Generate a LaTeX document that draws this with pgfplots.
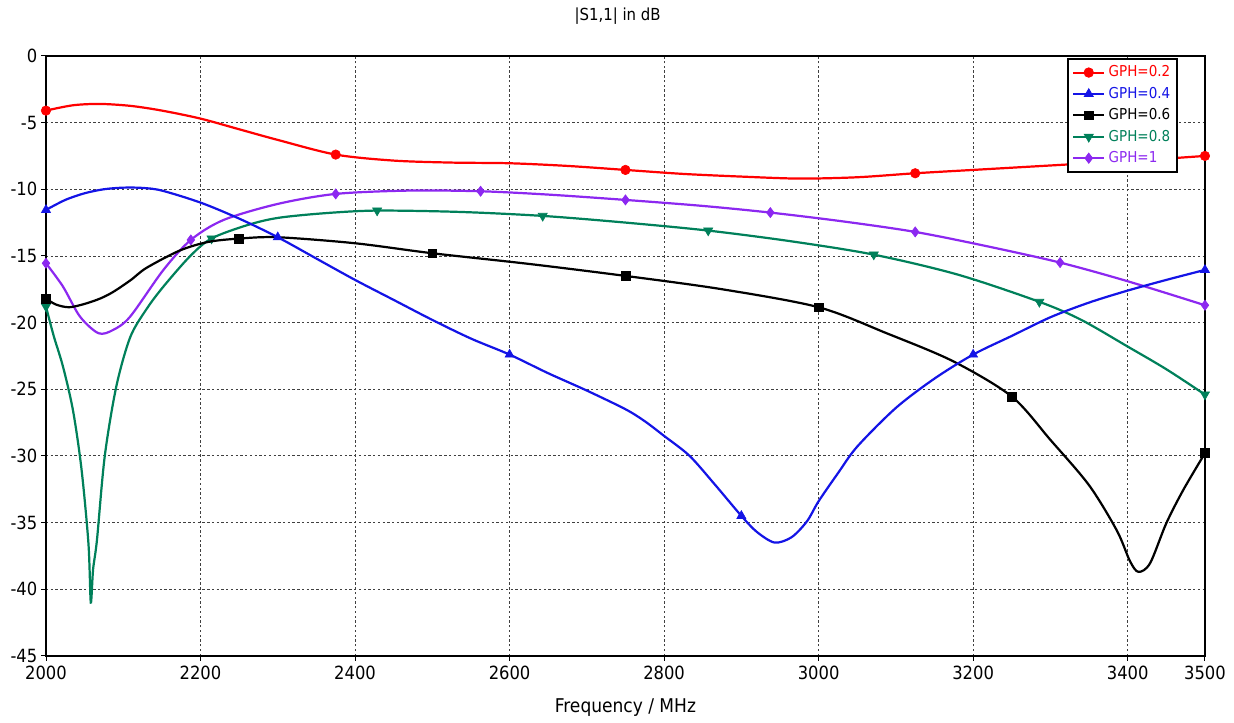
\documentclass[border=0pt]{standalone}
\usepackage{pgfplots}
\pgfplotsset{compat=1.18}
\usepackage{fontspec}
\setmainfont{DejaVu Sans Condensed}
\definecolor{cgreen}{RGB}{0,128,90}
\definecolor{cpurple}{RGB}{140,40,240}
\definecolor{cblue}{RGB}{20,20,230}
\definecolor{cred}{RGB}{255,0,0}
\begin{document}
\begin{tikzpicture}
\path[use as bounding box] (-29.1pt,-42.4pt) rectangle (751.9pt,415.1pt);
\begin{axis}[
 at={(0,0)}, anchor=south west,
 scale only axis, width=733.5pt, height=379.7pt,
 xmin=2000, xmax=3500, ymin=-45, ymax=0,
 xtick={2000,2200,...,3400,3500}, ytick={-45,-40,...,0},
 grid=major,
 major grid style={black!75, dash pattern=on 1.5pt off 1.5pt, line width=0.5pt},
 axis line style={black, line width=0.8pt},
 tick align=outside, tick pos=left, major tick length=3pt,
 tick style={black, line width=0.6pt},
 /pgf/number format/assume math mode=true,
 /pgf/number format/1000 sep={},
 ticklabel style={font=\fontsize{11.5}{13}\selectfont},
 yticklabel style={xshift=1pt},
 title={|S1,1| in dB},
 title style={font=\fontsize{10.5}{12}\selectfont, at={(0.5,1)}, anchor=center, yshift=19.3pt, xshift=-5pt},
 xlabel={Frequency / MHz},
 xlabel style={font=\fontsize{12}{14}\selectfont, at={(0.5,0)}, anchor=center, yshift=-33pt},
 clip mode=individual,
 legend style={at={(0.977,0.997)}, anchor=north east, draw=black, line width=1.2pt, fill=white,
   font=\fontsize{9.5}{11}\selectfont, row sep=1pt, inner sep=2.5pt},
 legend cell align=left,
 legend image code/.code={\draw[#1, line width=1.3pt] (0cm,0cm) -- (0.7cm,0cm);
   \draw[#1, line width=0.5pt] plot coordinates {(0.35cm,0cm)};},
]
% ---------- GPH=0.8 (green)
\addplot[cgreen, line width=1.4pt, smooth, forget plot] table {
2000 -18.8
2010 -21.0
2022 -23.3
2035 -26.6
2046 -31.0
2055 -36.6
2058 -41.0
2061 -38.5
2066 -36.3
2076 -30.05
2091 -24.8
2109 -21.1
2130 -19.0
2152 -17.3
2186 -15.05
2214 -13.7
2260 -12.7
2300 -12.15
2360 -11.8
2428 -11.6
2535 -11.7
2643 -12.0
2750 -12.5
2857 -13.1
2964 -13.9
3071 -14.9
3180 -16.4
3286 -18.45
3340 -19.8
3400 -21.8
3450 -23.5
3500 -25.4
};
\addplot[cgreen, only marks, mark=triangle*, mark options={rotate=180}, mark size=3.3pt, forget plot] table {
2000 -18.8
2214.3 -13.7
2428.6 -11.6
2642.9 -12.0
2857.1 -13.1
3071.4 -14.9
3285.7 -18.45
3500 -25.4
};
% ---------- GPH=1 (purple)
\addplot[cpurple, line width=1.4pt, smooth, forget plot] table {
2000 -15.55
2022 -17.3
2044 -19.55
2068 -20.8
2087 -20.55
2109 -19.55
2152 -16.05
2187.5 -13.8
2230 -12.3
2300 -11.1
2375 -10.35
2470 -10.1
2562.5 -10.15
2650 -10.4
2750 -10.8
2850 -11.25
2937.5 -11.75
3030 -12.4
3125 -13.2
3220 -14.3
3312.5 -15.5
3400 -16.9
3500 -18.7
};
\addplot[cpurple, only marks, mark=diamond*, mark size=3.2pt, forget plot] table {
2000 -15.55
2187.5 -13.8
2375 -10.35
2562.5 -10.15
2750 -10.8
2937.5 -11.75
3125 -13.2
3312.5 -15.5
3500 -18.7
};
% ---------- GPH=0.6 (black)
\addplot[black, line width=1.4pt, smooth, forget plot] table {
2000 -18.2
2013 -18.65
2030 -18.85
2050 -18.6
2070 -18.2
2087 -17.7
2110 -16.8
2130 -15.9
2173 -14.6
2210 -13.95
2250 -13.7
2300 -13.6
2400 -14.05
2500 -14.8
2625 -15.6
2750 -16.5
2875 -17.5
3000 -18.85
3088 -20.8
3174 -22.9
3250 -25.55
3300 -28.8
3350 -32.2
3386 -35.6
3403 -37.9
3414 -38.7
3429 -38.05
3450 -35.05
3472 -32.55
3500 -29.8
};
\addplot[black, only marks, mark=square*, mark size=2.8pt, forget plot] table {
2000 -18.2
2250 -13.7
2500 -14.8
2750 -16.5
3000 -18.85
3250 -25.55
3500 -29.8
};
% ---------- GPH=0.4 (blue)
\addplot[cblue, line width=1.4pt, smooth, forget plot] table {
2000 -11.55
2025 -10.8
2050 -10.3
2075 -10.0
2100 -9.88
2125 -9.9
2150 -10.1
2200 -11.0
2250 -12.2
2300 -13.6
2350 -15.2
2400 -16.8
2450 -18.3
2500 -19.8
2550 -21.2
2600 -22.4
2650 -23.8
2700 -25.1
2750 -26.5
2775 -27.4
2800 -28.5
2833 -30.0
2865 -32.1
2900 -34.5
2920 -35.7
2943 -36.5
2965 -36.1
2985 -34.9
3000 -33.4
3025 -31.3
3050 -29.3
3100 -26.4
3150 -24.2
3200 -22.4
3250 -21.0
3300 -19.6
3350 -18.5
3400 -17.6
3450 -16.8
3500 -16.05
};
\addplot[cblue, only marks, mark=triangle*, mark size=3.3pt, forget plot] table {
2000 -11.55
2300 -13.6
2600 -22.4
2900 -34.5
3200 -22.4
3500 -16.05
};
% ---------- GPH=0.2 (red)
\addplot[cred, line width=1.4pt, smooth, forget plot] table {
2000 -4.1
2035 -3.7
2070 -3.6
2110 -3.75
2150 -4.1
2200 -4.7
2250 -5.5
2300 -6.3
2375 -7.4
2450 -7.85
2525 -8.0
2600 -8.05
2675 -8.25
2750 -8.55
2825 -8.85
2900 -9.05
2975 -9.2
3050 -9.1
3125 -8.8
3200 -8.55
3275 -8.3
3350 -8.05
3425 -7.8
3500 -7.5
};
\addplot[cred, only marks, mark=*, mark size=3pt, forget plot] table {
2000 -4.1
2375 -7.4
2750 -8.55
3125 -8.8
3500 -7.5
};
% ---------- legend
\addlegendimage{cred, mark=*, mark size=3pt}
\addlegendentry[text=cred]{GPH=0.2}
\addlegendimage{cblue, mark=triangle*, mark size=3.3pt}
\addlegendentry[text=cblue]{GPH=0.4}
\addlegendimage{black, mark=square*, mark size=2.8pt}
\addlegendentry[text=black]{GPH=0.6}
\addlegendimage{cgreen, mark=triangle*, mark size=3.3pt, mark options={rotate=180}}
\addlegendentry[text=cgreen]{GPH=0.8}
\addlegendimage{cpurple, mark=diamond*, mark size=3.2pt}
\addlegendentry[text=cpurple]{GPH=1}
\end{axis}
\end{tikzpicture}
\end{document}
